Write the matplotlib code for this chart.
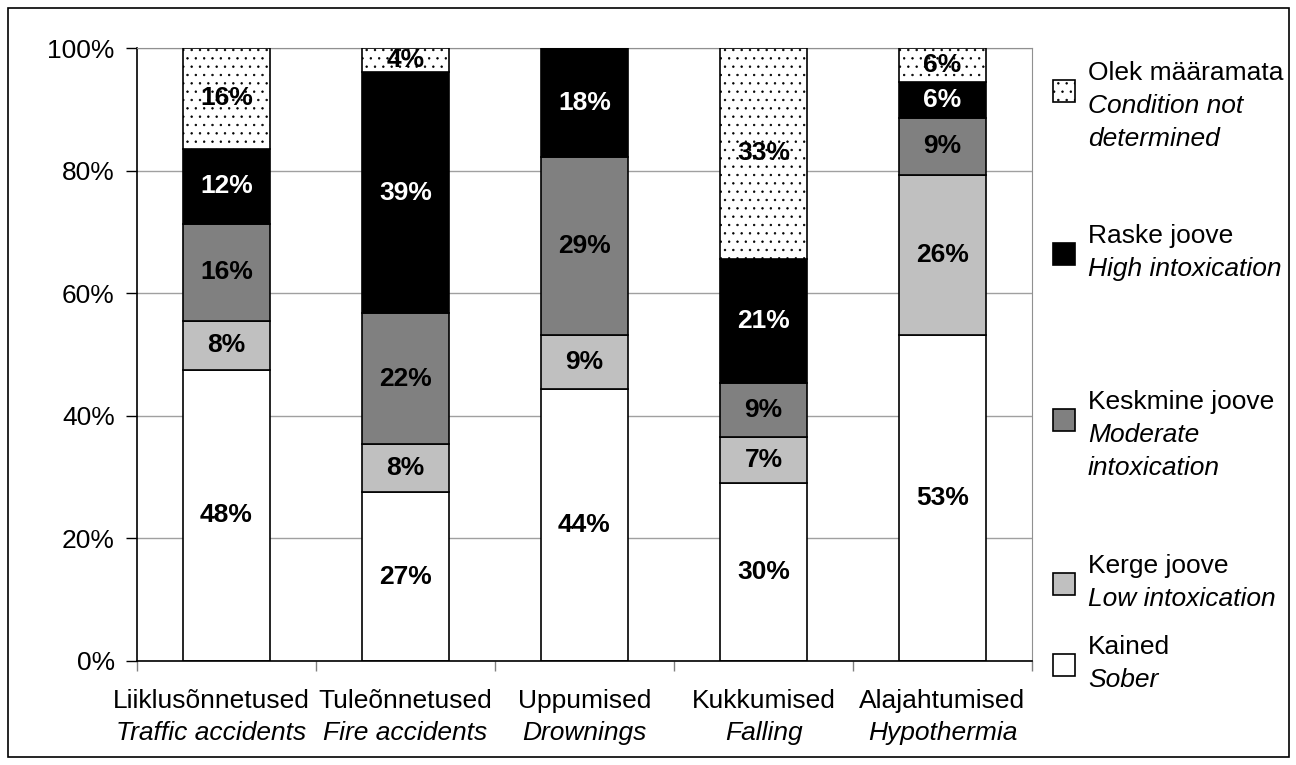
import numpy as np
import matplotlib
matplotlib.use("Agg")
from matplotlib import pyplot as plt
from matplotlib.patches import Rectangle
from matplotlib import transforms

plt.rcParams['font.family'] = ['Liberation Sans', 'DejaVu Sans']
plt.rcParams['hatch.linewidth'] = 0.5

# categories (Estonian / English)
cat_et = ["Liiklusõnnetused", "Tuleõnnetused", "Uppumised", "Kukkumised", "Alajahtumised"]
cat_en = ["Traffic accidents", "Fire accidents", "Drownings", "Falling", "Hypothermia"]

# shares in percent (bottom to top)
sober = [47.5, 27.5, 44.4, 29.1, 53.2]
light = [8.0, 7.9, 8.8, 7.4, 26.1]
moderate = [15.8, 21.3, 29.0, 8.8, 9.3]
heavy = [12.3, 39.4, 17.8, 20.3, 5.9]
undetermined = [16.4, 3.9, 0.0, 34.4, 5.5]

# printed labels on the segments
lab_sober = ["48%", "27%", "44%", "30%", "53%"]
lab_light = ["8%", "8%", "9%", "7%", "26%"]
lab_moderate = ["16%", "22%", "29%", "9%", "9%"]
lab_heavy = ["12%", "39%", "18%", "21%", "6%"]
lab_undet = ["16%", "4%", "", "33%", "6%"]

leg_et = ["Olek määramata", "Raske joove", "Keskmine joove", "Kerge joove", "Kained"]
leg_en = [["Condition not", "determined"], ["High intoxication"], ["Moderate", "intoxication"],
          ["Low intoxication"], ["Sober"]]

W, H = 1296, 765
fig = plt.figure(figsize=(W / 100, H / 100), dpi=100)
ax = fig.add_axes([137 / W, 1 - 661 / H, (1032 - 137) / W, (661 - 48) / H])

fs = 19
x = np.arange(len(cat_et))
series = [sober, light, moderate, heavy, undetermined]
labels = [lab_sober, lab_light, lab_moderate, lab_heavy, lab_undet]
colors = ["white", "#c0c0c0", "#808080", "black", "white"]
hatches = [None, None, None, None, ".."]
txtcol = ["black", "black", "black", "white", "black"]

bottom = np.zeros(len(x))
for vals, labs, c, h, tc in zip(series, labels, colors, hatches, txtcol):
    vals = np.array(vals)
    ax.bar(x, vals, 0.49, bottom=bottom, color=c, edgecolor="black", linewidth=1.2,
           hatch=h, zorder=3)
    for xi, b, v, lab in zip(x, bottom, vals, labs):
        if v > 0 and lab:
            ax.text(xi, b + v / 2, lab, ha="center", va="center", fontsize=fs,
                    fontweight="bold", color=tc, zorder=4)
    bottom += vals

ax.set_xlim(-0.5, len(x) - 0.5)
ax.set_ylim(0, 100)
ax.set_yticks(np.arange(0, 101, 20))
ax.set_yticklabels([f"{v}%" for v in range(0, 101, 20)], fontsize=fs)
ax.set_xticks(np.arange(-0.5, len(x), 1.0))
ax.set_xticklabels([])
ax.tick_params(axis="y", length=8, width=1, pad=8)
ax.tick_params(axis="x", length=7, width=1, color="#808080")
ax.yaxis.grid(True, color="#a0a0a0", linewidth=1, zorder=0)
ax.set_axisbelow(True)
for s in ["top", "right"]:
    ax.spines[s].set_color("#909090")
for s in ["left", "bottom"]:
    ax.spines[s].set_color("black")
    ax.spines[s].set_linewidth(1.2)
ax.spines["bottom"].set_zorder(5)

# two-line category labels (first one sits a little to the left, as in the original)
tr = ax.get_xaxis_transform()
for xi, et, en in zip(x, cat_et, cat_en):
    t = tr
    if xi == 0:
        t = transforms.offset_copy(tr, fig=fig, x=-15, y=0, units="dots")
    ax.text(xi, (661 - 701) / 613, et, transform=t, ha="center", va="center", fontsize=fs)
    ax.text(xi, (661 - 733) / 613, en, transform=t, ha="center", va="center", fontsize=fs,
            style="italic")

# legend drawn by hand to the right
leg_first = [73, 236, 402, 566, 647]
leg_colors = [colors[4], colors[3], colors[2], colors[1], colors[0]]
leg_hatch = ["..", None, None, None, None]
for y0, et, en, c, h in zip(leg_first, leg_et, leg_en, leg_colors, leg_hatch):
    fig.text(1088 / W, 1 - y0 / H, et, ha="left", va="center", fontsize=fs)
    for k, line in enumerate(en):
        fig.text(1088 / W, 1 - (y0 + 33 * (k + 1)) / H, line, ha="left", va="center",
                 fontsize=fs, style="italic")
    yc = y0 + 18
    fig.patches.append(Rectangle((1053 / W, 1 - (yc + 11) / H), 22 / W, 22 / H,
                                 transform=fig.transFigure, facecolor=c, edgecolor="black",
                                 linewidth=1.2, hatch=h))

# outer frame
fig.patches.append(Rectangle((8 / W, 1 - 757 / H), (1289 - 8) / W, (757 - 8) / H,
                             transform=fig.transFigure, fill=False, edgecolor="black",
                             linewidth=1.2))

fig.savefig("out.png", dpi=100)
